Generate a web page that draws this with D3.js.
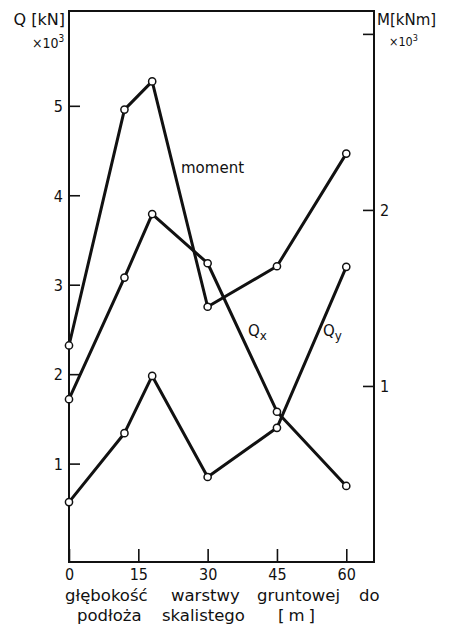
<!DOCTYPE html>
<html>
<head>
<meta charset="utf-8">
<script src="https://cdn.jsdelivr.net/npm/d3@7"></script>
<style>
  html, body { margin: 0; padding: 0; background: #fff; }
  svg text { font-family: "DejaVu Sans", sans-serif; fill: #111; }
  svg .num { font-family: "DejaVu Sans Condensed", "DejaVu Sans", sans-serif; }
</style>
</head>
<body>
<svg id="chart" width="449" height="629"></svg>
<script>
// depth of the soil layer to bedrock [m]
const depths = [0, 12, 18, 30, 45, 60];
// shear forces ×10³ kN (left axis)
const qx = [1.72, 3.08, 3.79, 3.24, 1.58, 0.75];
const qy = [0.57, 1.34, 1.98, 0.85, 1.40, 3.20];
// bending moment ×10³ kNm (right axis)
const moment = [1.23, 2.57, 2.73, 1.45, 1.68, 2.32];

const xTicks = [0, 15, 30, 45, 60];
const xTickLabels = ["0", "15", "30", "45", "60"];
const qTicks = [1, 2, 3, 4, 5];
const mTicks = [1, 2, 3];
const mTickLabels = ["1", "2", ""];

const svg = d3.select("#chart");
const frame = { left: 69, right: 374, top: 11, bottom: 562 };

const x = d3.scaleLinear().domain([0, 66]).range([frame.left, frame.right]);
const yQ = d3.scaleLinear().domain([-0.1, 6.06]).range([frame.bottom, frame.top]);
const yM = d3.scaleLinear().domain([0, 3.13]).range([frame.bottom, frame.top]);

const ink = "#111";

// plot frame
svg.append("rect")
  .attr("x", frame.left).attr("y", frame.top)
  .attr("width", frame.right - frame.left).attr("height", frame.bottom - frame.top)
  .attr("fill", "none").attr("stroke", ink).attr("stroke-width", 2);

// left axis (Q): ticks point right
const qAxis = d3.axisLeft(yQ).tickValues(qTicks).tickSize(-11).tickPadding(6)
  .tickFormat(d3.format("d"));
const gq = svg.append("g").attr("transform", `translate(${frame.left},0)`).call(qAxis);
gq.select(".domain").remove();
gq.selectAll(".tick line").attr("stroke", ink).attr("stroke-width", 1.6);
gq.selectAll(".tick text").attr("class", "num").attr("font-size", 16)
  .attr("x", -6).attr("dy", "0.36em");

// right axis (M): ticks point left
const mAxis = d3.axisRight(yM).tickValues(mTicks).tickSize(-11).tickPadding(6)
  .tickFormat((d, i) => mTickLabels[i]);
const gm = svg.append("g").attr("transform", `translate(${frame.right},0)`).call(mAxis);
gm.select(".domain").remove();
gm.selectAll(".tick line").attr("stroke", ink).attr("stroke-width", 1.6);
gm.selectAll(".tick text").attr("class", "num").attr("font-size", 16)
  .attr("x", 6).attr("dy", "0.36em");

// axis titles with the ×10³ multiplier
svg.append("text").attr("x", 65).attr("y", 25).attr("text-anchor", "end")
  .attr("font-size", 16).text("Q [kN]");
const qMul = svg.append("text").attr("class", "num").attr("x", 32).attr("y", 48)
  .attr("font-size", 14);
qMul.append("tspan").text("×10");
qMul.append("tspan").attr("font-size", 10).attr("dy", -6).text("3");

svg.append("text").attr("x", 377).attr("y", 25)
  .attr("font-size", 15).text("M[kNm]");
const mMul = svg.append("text").attr("class", "num").attr("x", 389).attr("y", 46)
  .attr("font-size", 12.5);
mMul.append("tspan").text("×10");
mMul.append("tspan").attr("font-size", 9).attr("dy", -5).text("3");

// x-axis title, two lines
const t1 = svg.append("text").attr("y", 601).attr("font-size", 16.5);
[["głębokość", 65], ["warstwy", 171], ["gruntowej", 257], ["do", 359]]
  .forEach(([w, px]) => t1.append("tspan").attr("x", px).text(w));
const t2 = svg.append("text").attr("y", 621).attr("font-size", 16.5);
[["podłoża", 77], ["skalistego", 162], ["[m]", 278]]
  .forEach(([w, px]) => t2.append("tspan").attr("x", px)
    .attr("letter-spacing", w === "[m]" ? 4 : null).text(w));

// series
const series = [
  { values: qx, y: yQ },
  { values: qy, y: yQ },
  { values: moment, y: yM }
];

series.forEach(s => {
  const pts = depths.map((d, i) => [x(d), s.y(s.values[i])]);
  svg.append("path")
    .attr("d", d3.line()(pts))
    .attr("fill", "none").attr("stroke", ink)
    .attr("stroke-width", 3).attr("stroke-linejoin", "round");
});

series.forEach(s => {
  svg.append("g").selectAll("circle")
    .data(depths)
    .join("circle")
    .attr("cx", d => x(d))
    .attr("cy", (d, i) => s.y(s.values[i]))
    .attr("r", 3.6)
    .attr("fill", "#fff").attr("stroke", ink).attr("stroke-width", 1.5);
});

// series labels
svg.append("text").attr("x", 181).attr("y", 173).attr("font-size", 15).text("moment");

const lx = svg.append("text").attr("x", 248).attr("y", 336).attr("font-size", 15);
lx.append("tspan").text("Q");
lx.append("tspan").attr("font-size", 12).attr("dy", 4).text("x");

const ly = svg.append("text").attr("x", 323).attr("y", 336).attr("font-size", 15);
ly.append("tspan").text("Q");
ly.append("tspan").attr("font-size", 12).attr("dy", 4).text("y");

// bottom axis: ticks point up into the plot
const xAxis = d3.axisBottom(x).tickValues(xTicks).tickSize(-13).tickPadding(19)
  .tickFormat((d, i) => xTickLabels[i]);
const gx = svg.append("g").attr("class", "x-axis")
  .attr("transform", `translate(0,${frame.bottom})`).call(xAxis);
gx.select(".domain").remove();
gx.selectAll(".tick line").attr("stroke", ink).attr("stroke-width", 1.6);
gx.selectAll(".tick text").attr("class", "num").attr("font-size", 16)
  .attr("dy", 0).attr("y", 18);
</script>
</body>
</html>
